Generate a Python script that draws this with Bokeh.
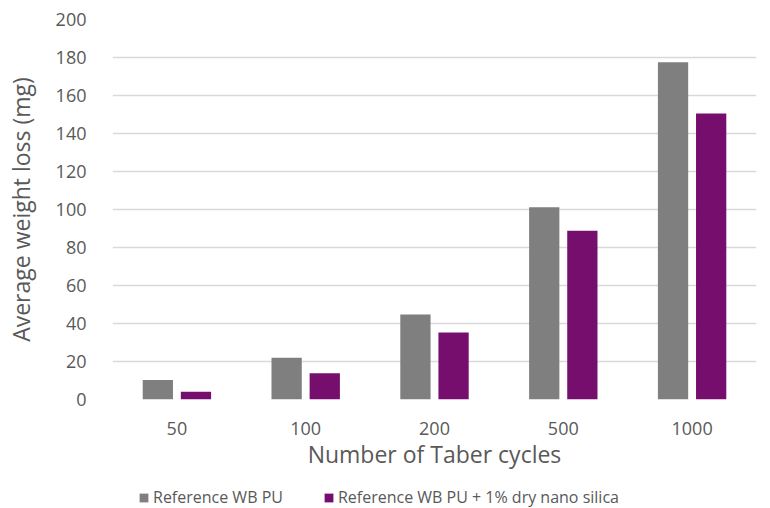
from bokeh.plotting import figure
from bokeh.models import ColumnDataSource, FactorRange, Legend, LegendItem, Range1d, SingleIntervalTicker
from bokeh.layouts import column
from bokeh.transform import dodge
from bokeh.embed import file_html
from bokeh.resources import INLINE

cycles = ["50", "100", "200", "500", "1000"]
ref_wb_pu = [10.2, 22.0, 44.8, 101.2, 177.5]
ref_wb_pu_silica = [4.1, 13.8, 35.3, 88.8, 150.5]
series_names = ["Reference WB PU", "Reference WB PU + 1% dry nano silica"]
colors = ["#7f7f7f", "#760e6e"]

src = ColumnDataSource(dict(cat=cycles, a=ref_wb_pu, b=ref_wb_pu_silica))

FONT = "Open Sans"
TXT = "#595959"

p = figure(x_range=FactorRange(*cycles), y_range=Range1d(0, 200),
           width=762, height=476, output_backend="svg", toolbar_location=None,
           min_border_left=112, min_border_right=6, min_border_top=19, min_border_bottom=77)
p.outline_line_color = None

p.vbar(x=dodge("cat", -0.148, range=p.x_range), top="a", width=0.235, source=src,
       fill_color=colors[0], line_color=None)
p.vbar(x=dodge("cat", 0.148, range=p.x_range), top="b", width=0.235, source=src,
       fill_color=colors[1], line_color=None)

p.yaxis.ticker = SingleIntervalTicker(interval=20)
p.ygrid.grid_line_color = "#d9d9d9"
p.ygrid.grid_line_width = 1.5
p.xgrid.grid_line_color = None

for ax in (p.xaxis, p.yaxis):
    ax.axis_line_color = None
    ax.major_tick_line_color = None
    ax.minor_tick_line_color = None
    ax.major_label_text_font = FONT
    ax.major_label_text_font_size = "18px"
    ax.major_label_text_color = TXT
    ax.axis_label_text_font = FONT
    ax.axis_label_text_font_size = "23px"
    ax.axis_label_text_color = TXT
    ax.axis_label_text_font_style = "normal"

p.yaxis.axis_label = "Average weight loss (mg)"
p.xaxis.axis_label = "Number of Taber cycles"
p.yaxis.major_label_standoff = 20
p.yaxis.axis_label_standoff = 16
p.xaxis.major_label_standoff = 16
p.xaxis.axis_label_standoff = 0

# legend strip below the chart (its frame is aligned with the chart's frame)
lf = figure(width=762, height=32, output_backend="svg", toolbar_location=None,
            x_range=Range1d(0, 1), y_range=Range1d(0, 1),
            min_border_left=0, min_border_right=0, min_border_top=0, min_border_bottom=0)
lf.axis.visible = False
lf.grid.visible = False
lf.outline_line_color = None
items = []
for name, c in zip(series_names, colors):
    dummy = ColumnDataSource(dict(x=[-10], top=[-10]))
    r = lf.vbar(x="x", top="top", width=0.1, source=dummy, fill_color=c, line_color=None)
    items.append(LegendItem(label=name, renderers=[r]))

legend = Legend(items=items, orientation="horizontal", location=(26, 0))
legend.label_text_font = FONT
legend.label_text_font_size = "16px"
legend.label_text_color = TXT
legend.border_line_color = None
legend.background_fill_alpha = 0
legend.glyph_width = 11
legend.glyph_height = 11
legend.label_standoff = 4
legend.spacing = 40
legend.padding = 0
legend.margin = 0
lf.add_layout(legend, "center")

open("out.html", "w").write(file_html(column(p, lf, spacing=0), INLINE))
